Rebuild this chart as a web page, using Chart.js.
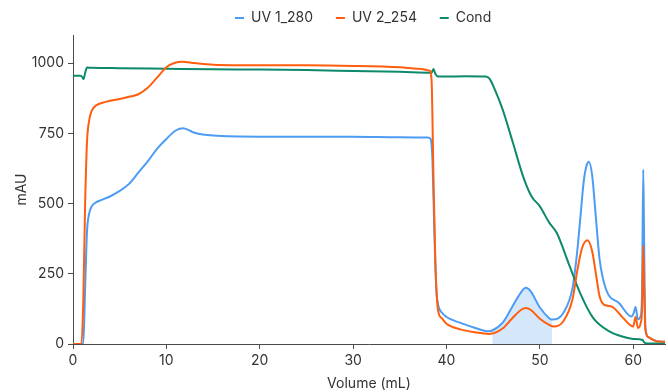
<!DOCTYPE html>
<html>
<head>
<meta charset="utf-8">
<script src="https://cdn.jsdelivr.net/npm/chart.js@4.4.1/dist/chart.umd.min.js"></script>
<style>
  html, body { margin: 0; padding: 0; background: #fff; }
  #wrap { width: 668px; height: 392px; }
</style>
</head>
<body>
<div id="wrap"><canvas id="chart" width="668" height="392"></canvas></div>
<script>
// UV 1_280 trace (volume in mL, absorbance in mAU)
const uv1Volume = [0, 1.1, 1.3, 1.5, 1.7, 2.0, 2.5, 3, 4, 5, 6, 7, 8, 9, 10, 11, 11.8, 13, 15, 20, 25, 30, 35, 38, 38.3,
  38.5, 38.7, 38.9, 39.1, 39.5, 40, 41.5, 43, 44.5, 44.9, 46, 47, 48, 48.5, 49, 50, 51, 51.3, 52, 52.5, 53.5, 54, 54.3,
  54.7, 55, 55.25, 55.6, 56, 56.4, 57.1, 58.5, 59.8, 60.05, 60.25, 60.5, 60.8, 60.95, 61.07, 61.17, 61.3, 61.6, 62.5, 63.4];
const uv1Values = [0, 0, 200, 400, 460, 490, 505, 512, 526, 545, 570, 610, 650, 695, 730, 760, 768, 752, 742, 738, 738, 738, 736, 735, 730,
  650, 400, 200, 140, 112, 96, 75, 58, 45, 48, 75, 130, 185, 200, 188, 130, 92, 87, 92, 110, 200, 330, 437,
  580, 635, 649, 600, 450, 300, 193, 145, 98, 110, 132, 88, 100, 200, 621, 350, 60, 25, 10, 8];

// UV 2_254 trace
const uv2Volume = [0, 0.9, 1.1, 1.3, 1.5, 1.7, 2.0, 2.5, 3.5, 5, 6, 7, 8, 9, 10, 11, 11.7, 13, 15, 20, 25, 30, 35, 37, 38.2,
  38.4, 38.6, 38.8, 39.0, 39.2, 39.5, 40, 41.5, 43, 44.6, 46, 47, 48, 48.5, 49, 50, 51, 51.5, 52.5, 53.5, 54, 54.5, 55.1,
  55.6, 56, 56.4, 56.9, 57.7, 58.9, 60, 60.25, 60.5, 60.8, 60.95, 61.07, 61.17, 61.3, 61.6, 62.5, 63.4];
const uv2Values = [0, 0, 150, 500, 720, 790, 830, 850, 862, 872, 880, 889, 912, 948, 985, 1002, 1005, 1000, 994, 992, 992, 990, 985, 980, 973,
  940, 600, 300, 150, 105, 92, 72, 52, 42, 36, 55, 90, 122, 128, 122, 90, 68, 62, 80, 160, 260, 340, 369,
  330, 250, 169, 139, 133, 93, 62, 97, 57, 75, 130, 350, 200, 50, 25, 10, 8];

// Conductivity trace
const condVolume = [0, 0.78, 1.0, 1.13, 1.3, 1.5, 2, 5, 10, 15, 20, 25, 30, 35, 38.4, 38.6, 38.8, 39.1, 40, 42, 44.2, 44.6,
  45.3, 46, 47.1, 48.2, 49.1, 50, 51, 51.8, 53.2, 54.3, 55.7, 57.5, 59, 60, 61, 61.2, 61.4, 63.4];
const condValues = [955, 955, 950, 943, 965, 984, 983, 982, 980, 978, 977, 975, 972, 969, 966, 979, 962, 952, 952, 953, 952, 945,
  896, 836, 718, 597, 526, 490, 432, 396, 276, 182, 93, 44, 25, 18, 14, 5, 2, 2];

// shaded fraction under UV 1_280
const fractionStart = 44.9;
const fractionEnd = 51.3;

const xTickValues = [0, 10, 20, 30, 40, 50, 60];
const yTickValues = [0, 250, 500, 750, 1000];

const toPoints = (xs, ys) => xs.map((x, i) => ({ x, y: ys[i] }));
const uv1Points = toPoints(uv1Volume, uv1Values);
const fractionPoints = uv1Points.filter(p => p.x >= fractionStart && p.x <= fractionEnd);

const BLUE = '#4c9cf4';
const ORANGE = '#ff5e0e';
const GREEN = '#0d8a6b';
const TEXT = '#333333';
const AXIS = '#4a4a4a';

Chart.defaults.font.family = 'Inter, "Noto Sans", sans-serif';
Chart.defaults.font.size = 14;
Chart.defaults.color = TEXT;

const lineStyle = (color) => ({
  borderColor: color,
  backgroundColor: color,
  borderWidth: 2,
  pointRadius: 0,
  fill: false,
  cubicInterpolationMode: 'monotone'
});

const ctx = document.getElementById('chart').getContext('2d');
new Chart(ctx, {
  type: 'line',
  data: {
    datasets: [
      { label: 'UV 1_280', data: uv1Points, order: 3, ...lineStyle(BLUE) },
      { label: 'UV 2_254', data: toPoints(uv2Volume, uv2Values), order: 1, ...lineStyle(ORANGE) },
      { label: 'Cond', data: toPoints(condVolume, condValues), order: 2, ...lineStyle(GREEN) },
      {
        label: 'fraction',
        data: fractionPoints,
        order: 10,
        borderWidth: 0,
        borderColor: 'rgba(0,0,0,0)',
        backgroundColor: '#d5e7fb',
        pointRadius: 0,
        fill: 'origin',
        cubicInterpolationMode: 'monotone'
      }
    ]
  },
  options: {
    responsive: false,
    animation: false,
    layout: { padding: { left: 0, right: 3, top: 0, bottom: 0 } },
    plugins: {
      tooltip: { enabled: false },
      legend: {
        position: 'top',
        fullSize: false,
        labels: {
          boxWidth: 9,
          boxHeight: 2,
          padding: 11,
          color: TEXT,
          font: { size: 14 },
          sort: (a, b) => a.datasetIndex - b.datasetIndex,
          filter: (item) => item.text !== 'fraction',
          generateLabels: (chart) => {
            const items = Chart.defaults.plugins.legend.labels.generateLabels(chart);
            return items.map(item => {
              item.lineWidth = 0;
              item.fillStyle = item.strokeStyle;
              if (item.datasetIndex < 3) item.text = item.text + '\u00a0\u00a0\u00a0';
              return item;
            });
          }
        }
      }
    },
    scales: {
      x: {
        type: 'linear',
        min: 0,
        max: 63.4,
        afterBuildTicks: (scale) => { scale.ticks = xTickValues.map(v => ({ value: v })); },
        afterFit: (scale) => { scale.height = 48; },
        grid: { display: true, drawOnChartArea: false, tickLength: 5, color: AXIS },
        border: { display: true, color: AXIS, width: 1 },
        ticks: { color: TEXT, padding: 3, maxRotation: 0, callback: (v) => String(v) },
        title: { display: true, text: 'Volume (mL)', color: TEXT, font: { size: 14 }, padding: { top: 0, bottom: 0 } }
      },
      y: {
        min: 0,
        max: 1100,
        afterBuildTicks: (scale) => { scale.ticks = yTickValues.map(v => ({ value: v })); },
        afterFit: (scale) => { scale.width = 73; },
        grid: { display: true, drawOnChartArea: false, tickLength: 5, color: AXIS },
        border: { display: true, color: AXIS, width: 1 },
        ticks: { color: TEXT, padding: 4, callback: (v) => String(v) },
        title: { display: true, text: 'mAU', color: TEXT, font: { size: 14 }, padding: { top: 13, bottom: 0 } }
      }
    }
  }
});
</script>
</body>
</html>
